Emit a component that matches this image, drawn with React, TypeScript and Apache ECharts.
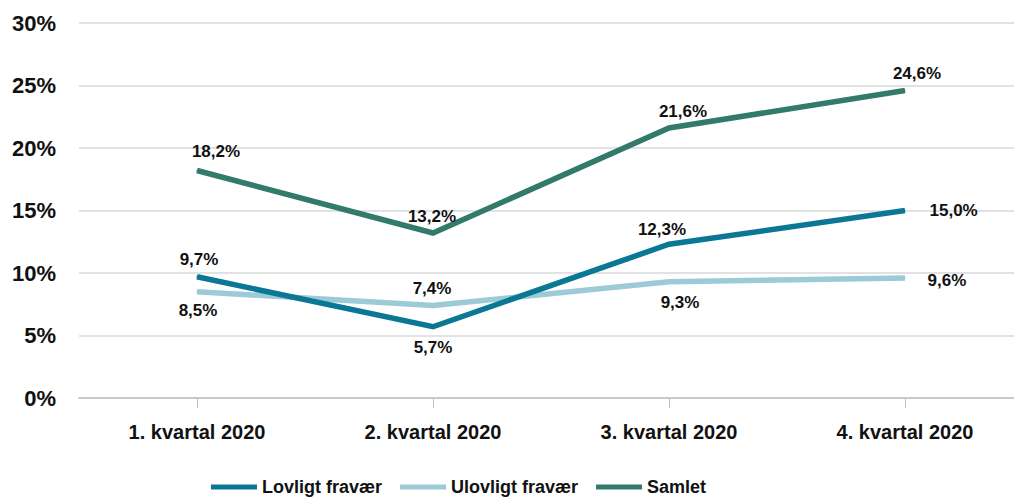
import React, { useEffect, useRef } from "react";
import * as echarts from "echarts";

const categories = ["1. kvartal 2020", "2. kvartal 2020", "3. kvartal 2020", "4. kvartal 2020"];
const lovligt = [9.7, 5.7, 12.3, 15.0];
const ulovligt = [8.5, 7.4, 9.3, 9.6];
const samlet = [18.2, 13.2, 21.6, 24.6];
const seriesNames = ["Lovligt fravær", "Ulovligt fravær", "Samlet"];
const colors = ["#0a7894", "#9ccad6", "#327a6a"];

const FONT = "'Liberation Sans', Arial, sans-serif";

const fmt = (v: number) => v.toFixed(1).replace(".", ",") + "%";

type LP = { position: string; offset: [number, number] };
const lovligtLabels: LP[] = [
  { position: "top", offset: [2, 0] },
  { position: "bottom", offset: [0, 4] },
  { position: "top", offset: [-7, 2] },
  { position: "right", offset: [16, 0] },
];
const ulovligtLabels: LP[] = [
  { position: "bottom", offset: [1, 2] },
  { position: "top", offset: [-1, 0] },
  { position: "bottom", offset: [11, 4] },
  { position: "right", offset: [14, 2] },
];
const samletLabels: LP[] = [
  { position: "top", offset: [19, -2] },
  { position: "top", offset: [-1, 0] },
  { position: "top", offset: [14, 0] },
  { position: "top", offset: [12, 0] },
];

function build(vals: number[], labels: LP[]) {
  return vals.map((v, i) => ({
    value: v,
    label: {
      show: true,
      position: labels[i].position,
      offset: labels[i].offset,
      distance: 8,
      formatter: () => fmt(v),
      fontFamily: FONT,
      fontWeight: "bold",
      fontSize: 17,
      color: "#111",
    },
  }));
}

export default function App() {
  const ref = useRef<HTMLDivElement>(null);
  useEffect(() => {
    if (!ref.current) return;
    const chart = echarts.init(ref.current, null, { renderer: "svg" });
    const datas = [build(lovligt, lovligtLabels), build(ulovligt, ulovligtLabels), build(samlet, samletLabels)];
    chart.setOption({
      animation: false,
      backgroundColor: "#fff",
      grid: { left: 79, right: 9, top: 23, bottom: 100, containLabel: false },
      legend: {
        top: 473,
        left: 206,
        itemWidth: 46,
        itemHeight: 5,
        itemGap: 18,
        icon: "rect",
        textStyle: { fontFamily: FONT, fontSize: 18, fontWeight: "bold", color: "#111" },
        data: seriesNames,
      },
      xAxis: {
        type: "category",
        data: categories,
        boundaryGap: true,
        axisLine: { lineStyle: { color: "#bfbfbf", width: 1.5 } },
        axisTick: { show: true, alignWithLabel: true, length: 10, lineStyle: { color: "#bfbfbf" } },
        axisLabel: { margin: 24, fontFamily: FONT, fontSize: 20, fontWeight: "bold", color: "#111" },
      },
      yAxis: {
        type: "value",
        min: 0,
        max: 30,
        interval: 5,
        axisLine: { show: false },
        axisTick: { show: false },
        axisLabel: {
          margin: 23,
          formatter: (v: number) => v + "%",
          fontFamily: FONT,
          fontSize: 22,
          fontWeight: "bold",
          color: "#111",
        },
        splitLine: { lineStyle: { color: "#d9d9d9", width: 1.5 } },
      },
      series: seriesNames.map((name, i) => ({
        name,
        type: "line",
        data: datas[i],
        symbol: "circle",
        symbolSize: 1,
        showSymbol: true,
        itemStyle: { color: colors[i] },
        color: colors[i],
        lineStyle: { width: 5.5, color: colors[i], cap: "butt", join: "miter" },
        z: i === 1 ? 2 : 3,
      })),
    });
    return () => chart.dispose();
  }, []);
  return (
    <div
      ref={ref}
      style={{ position: "fixed", left: 0, top: 0, width: 1032, height: 498 }}
    />
  );
}
